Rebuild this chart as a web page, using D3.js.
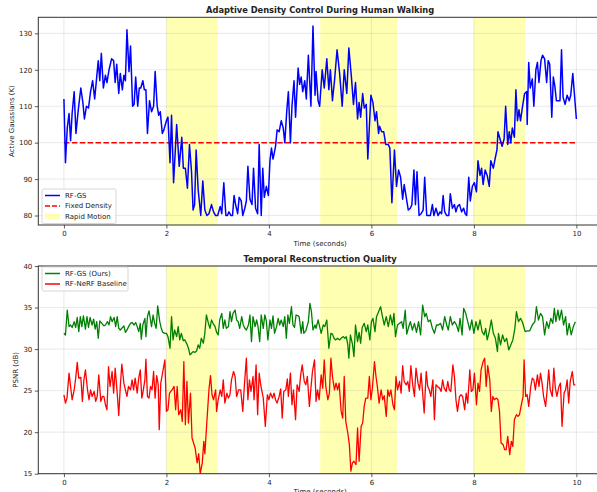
<!DOCTYPE html>
<html><head><meta charset="utf-8">
<script src="https://cdn.jsdelivr.net/npm/d3@7"></script>
<style>body{margin:0;background:#fff}svg{display:block}text{font-family:"DejaVu Sans",sans-serif;fill:#222}</style>
</head><body><svg id="c" width="597" height="492"></svg>
<script>
// ---- Data ----
const xTicks = [0, 2, 4, 6, 8, 10];
const topYTicks = [80, 90, 100, 110, 120, 130];
const botYTicks = [15, 20, 25, 30, 35, 40];
const rapidMotion = [[2, 3], [5, 6.5], [8, 9]];
const fixedDensity = 100;
// Active Gaussians (K), [time, value]
const rfgsGaussians = [[0,112],[0.03,94.5],[0.065,104],[0.1,108],[0.13,100.5],[0.16,108],[0.2,114],[0.235,102.5],[0.28,109],[0.33,115],[0.37,111],[0.4,106.5],[0.44,110],[0.48,109.5],[0.52,114],[0.56,117],[0.6,112],[0.63,116.5],[0.67,122.5],[0.7,117],[0.73,124.5],[0.77,115],[0.81,118.5],[0.84,116.5],[0.88,120],[0.93,123],[0.97,122.5],[1.0,116.5],[1.03,121.5],[1.07,113.5],[1.1,119],[1.14,114.5],[1.17,118.5],[1.2,117],[1.23,131],[1.27,119.5],[1.3,126.5],[1.34,110],[1.37,110.5],[1.4,118],[1.44,110],[1.47,115],[1.5,115],[1.54,117],[1.57,114.5],[1.6,114.5],[1.63,102.5],[1.67,111.5],[1.71,108.5],[1.75,110],[1.78,119.5],[1.82,110],[1.85,107.5],[1.88,108.5],[1.92,102.5],[1.95,103.5],[2.0,106],[2.03,107],[2.07,94.5],[2.1,107.5],[2.14,89],[2.2,105],[2.25,93.5],[2.3,101.5],[2.33,93],[2.37,93],[2.41,87.5],[2.45,99.5],[2.49,92],[2.52,81.5],[2.55,83],[2.58,98],[2.62,87],[2.67,80],[2.71,89.5],[2.75,81.5],[2.79,80],[2.83,80.5],[2.88,83],[2.92,81],[2.96,80],[3.0,80],[3.05,82.5],[3.08,80.5],[3.12,89],[3.16,80],[3.19,80],[3.22,81],[3.26,80],[3.29,80],[3.32,85.5],[3.35,83],[3.39,80.5],[3.42,85],[3.46,84],[3.49,80],[3.53,82],[3.56,84],[3.59,93.5],[3.63,84.5],[3.67,83],[3.7,93],[3.74,82],[3.78,80.5],[3.81,99.5],[3.85,80],[3.88,93],[3.91,85],[3.95,88],[3.99,85.5],[4.02,95],[4.05,98.5],[4.08,95.5],[4.13,99],[4.16,103.5],[4.2,103],[4.24,106],[4.28,104],[4.31,100],[4.35,109],[4.38,114],[4.42,100],[4.45,110],[4.49,117],[4.52,107],[4.57,120.5],[4.6,116],[4.63,118],[4.66,114],[4.7,117],[4.73,112],[4.77,124],[4.82,110],[4.86,132],[4.9,113],[4.92,119.5],[4.96,111.5],[4.99,110],[5.04,120],[5.08,115],[5.13,123],[5.17,114.5],[5.2,120],[5.24,111.5],[5.28,117],[5.33,125.5],[5.38,119],[5.43,110],[5.47,120],[5.52,113.5],[5.56,126],[5.61,118],[5.65,110.5],[5.69,116.5],[5.73,106.5],[5.76,111],[5.79,107],[5.83,113.5],[5.86,109.5],[5.9,110.5],[5.93,95.5],[5.99,113],[6.03,111],[6.07,106],[6.1,108.5],[6.14,102.5],[6.16,104.5],[6.2,103],[6.24,103],[6.28,99.5],[6.33,99.5],[6.36,98.5],[6.4,83.5],[6.45,98],[6.49,88],[6.53,92.5],[6.57,90.5],[6.61,84.5],[6.64,88.5],[6.68,85],[6.72,81.5],[6.76,82],[6.79,83],[6.83,92.5],[6.86,83],[6.89,92],[6.93,80],[6.97,80.5],[7.01,81.5],[7.04,90.5],[7.08,80],[7.11,80],[7.15,80],[7.19,83],[7.22,80],[7.26,82],[7.3,80],[7.34,81],[7.37,80.5],[7.4,85.5],[7.43,81],[7.47,80],[7.51,80],[7.54,86],[7.58,82],[7.62,83],[7.65,81],[7.68,82.5],[7.72,83],[7.76,81],[7.8,82],[7.83,80.5],[7.86,80],[7.9,90.5],[7.93,84],[7.97,88],[8.01,89],[8.05,86.5],[8.08,95],[8.12,91],[8.15,93],[8.18,88.5],[8.22,92.5],[8.26,91],[8.3,88],[8.33,95],[8.38,93],[8.42,96],[8.45,98],[8.47,103],[8.52,100.5],[8.55,99],[8.59,101],[8.62,110],[8.66,99.5],[8.69,103],[8.72,100],[8.75,104],[8.79,101.5],[8.82,114.5],[8.85,106],[8.88,109],[8.91,106],[8.95,110],[8.99,113.5],[9.03,114],[9.04,105],[9.07,122],[9.1,115],[9.14,117.5],[9.17,110],[9.21,120],[9.24,122],[9.27,116.5],[9.31,122.5],[9.34,124],[9.38,123],[9.42,116.5],[9.45,122.5],[9.48,121.5],[9.52,107],[9.55,118],[9.58,115.5],[9.61,111.5],[9.65,111.5],[9.68,111.5],[9.71,125.5],[9.74,112.5],[9.78,110.5],[9.82,113],[9.86,111.5],[9.89,113],[9.93,119],[10.0,106.5]];
// PSNR (dB), [time, value]
const rfgsPsnr = [[0,31.9],[0.03,31.7],[0.065,34.7],[0.1,32.7],[0.13,32.9],[0.16,32.6],[0.2,33.3],[0.23,32.6],[0.26,33.8],[0.29,32.1],[0.32,33.9],[0.35,32.7],[0.38,34.0],[0.42,32.4],[0.45,33.9],[0.48,32.6],[0.51,33.8],[0.55,32.9],[0.58,33.6],[0.61,32.4],[0.64,33.3],[0.67,31.3],[0.7,33.4],[0.74,33.1],[0.78,32.8],[0.81,32.9],[0.85,33.3],[0.88,32.9],[0.91,33.9],[0.94,33.3],[0.98,33.8],[1.01,32.7],[1.04,33.9],[1.07,32.5],[1.1,32.3],[1.13,32.5],[1.17,32.8],[1.2,32.0],[1.24,32.4],[1.27,32.8],[1.3,33.1],[1.33,33.2],[1.37,32.9],[1.4,33.2],[1.43,32.7],[1.46,32.1],[1.49,33.1],[1.51,31.2],[1.54,32.9],[1.58,33.7],[1.6,31.5],[1.63,33.9],[1.66,34.6],[1.69,33.5],[1.71,32.7],[1.74,34.1],[1.77,33.1],[1.8,32.5],[1.83,35.2],[1.87,33.3],[1.9,32.5],[1.93,32.0],[1.97,31.9],[2.0,31.9],[2.03,31.5],[2.07,30.1],[2.1,33.9],[2.13,31.1],[2.16,32.3],[2.2,31.5],[2.23,32.7],[2.26,31.1],[2.29,31.9],[2.33,31.0],[2.36,31.1],[2.4,30.6],[2.43,30.1],[2.46,29.3],[2.49,29.5],[2.52,29.7],[2.56,29.6],[2.59,29.8],[2.62,30.5],[2.65,30.1],[2.68,31.3],[2.72,30.7],[2.75,31.9],[2.78,34.1],[2.82,33.1],[2.85,32.5],[2.88,33.5],[2.91,33.1],[2.95,32.7],[2.98,32.0],[3.01,31.7],[3.04,33.5],[3.08,34.3],[3.11,32.5],[3.14,33.5],[3.17,32.5],[3.21,32.7],[3.24,34.5],[3.27,33.3],[3.3,34.3],[3.34,34.7],[3.37,33.5],[3.4,33.3],[3.43,32.5],[3.47,33.9],[3.5,32.9],[3.53,32.5],[3.56,32.3],[3.6,32.9],[3.63,34.1],[3.66,30.9],[3.69,33.9],[3.73,32.7],[3.76,33.5],[3.79,32.6],[3.82,30.9],[3.85,34.1],[3.89,32.5],[3.92,34.1],[3.95,33.4],[3.98,31.1],[4.02,33.5],[4.05,32.5],[4.08,34.0],[4.11,31.9],[4.15,32.7],[4.18,33.7],[4.21,32.9],[4.24,33.5],[4.28,32.7],[4.31,33.9],[4.34,31.3],[4.37,34.1],[4.4,33.1],[4.44,35.1],[4.47,32.9],[4.5,32.6],[4.53,34.1],[4.57,34.0],[4.59,33.9],[4.63,31.9],[4.66,33.3],[4.68,31.9],[4.72,32.2],[4.77,33.3],[4.8,35.5],[4.83,34.5],[4.86,32.3],[4.9,32.9],[4.92,32.5],[4.96,33.5],[4.99,32.7],[5.02,31.9],[5.06,32.9],[5.09,32.7],[5.13,33.5],[5.17,30.1],[5.21,31.9],[5.24,31.8],[5.27,31.3],[5.3,31.1],[5.34,31.3],[5.38,31.1],[5.41,31.3],[5.45,31.5],[5.48,31.3],[5.51,31.5],[5.54,30.5],[5.56,28.9],[5.59,31.7],[5.63,30.6],[5.66,29.1],[5.69,32.9],[5.73,30.9],[5.76,32.0],[5.79,30.7],[5.82,32.6],[5.86,33.1],[5.9,32.1],[5.93,32.9],[5.97,31.1],[6.0,33.3],[6.03,33.7],[6.07,32.1],[6.1,33.9],[6.14,34.5],[6.18,35.1],[6.21,34.1],[6.25,32.9],[6.29,33.9],[6.33,32.7],[6.37,34.1],[6.41,32.9],[6.44,34.3],[6.47,31.5],[6.51,32.9],[6.55,33.1],[6.59,33.3],[6.62,32.5],[6.66,34.7],[6.69,31.8],[6.72,32.5],[6.76,33.3],[6.8,32.3],[6.84,33.1],[6.88,32.0],[6.92,33.3],[6.96,31.7],[7.0,35.3],[7.04,33.9],[7.07,34.3],[7.11,33.3],[7.15,33.5],[7.19,32.5],[7.23,31.9],[7.27,32.9],[7.31,32.9],[7.35,33.1],[7.39,32.3],[7.43,33.9],[7.47,32.9],[7.5,32.3],[7.54,33.9],[7.58,32.9],[7.62,33.3],[7.66,32.9],[7.7,32.1],[7.73,33.7],[7.77,31.7],[7.8,34.9],[7.84,34.3],[7.88,33.3],[7.92,32.3],[7.96,33.5],[8.0,31.9],[8.04,33.3],[8.08,32.3],[8.12,33.5],[8.16,32.1],[8.2,31.7],[8.23,32.5],[8.26,31.1],[8.3,32.1],[8.34,33.5],[8.38,31.9],[8.42,31.3],[8.46,29.7],[8.48,31.9],[8.52,30.5],[8.56,31.7],[8.6,30.9],[8.64,31.3],[8.68,29.9],[8.72,30.5],[8.76,31.1],[8.8,32.5],[8.83,34.5],[8.87,33.3],[8.91,33.7],[8.95,33.2],[9.0,32.1],[9.04,32.2],[9.09,32.2],[9.14,32.9],[9.19,33.3],[9.22,35.1],[9.26,33.5],[9.3,34.3],[9.34,33.9],[9.38,31.7],[9.42,33.3],[9.46,32.5],[9.5,33.7],[9.54,33.1],[9.57,34.9],[9.6,33.3],[9.64,34.7],[9.67,33.5],[9.71,34.7],[9.75,32.9],[9.79,33.9],[9.82,31.7],[9.86,33.1],[9.9,31.7],[9.94,32.7],[9.98,33.3]];
const nerfPsnr = [[0,24.5],[0.03,23.5],[0.06,24.1],[0.1,27.1],[0.13,25.5],[0.16,23.9],[0.2,25.1],[0.23,26.5],[0.26,28.4],[0.29,26.5],[0.33,26.6],[0.36,23.7],[0.39,26.3],[0.42,27.5],[0.46,25.1],[0.49,23.9],[0.52,25.1],[0.55,24.3],[0.59,24.9],[0.62,23.7],[0.65,24.3],[0.68,26.9],[0.72,23.7],[0.75,24.3],[0.78,24.3],[0.81,23.3],[0.84,22.7],[0.87,27.9],[0.9,25.5],[0.94,27.3],[0.97,24.7],[1.0,27.7],[1.04,24.7],[1.07,22.0],[1.1,25.5],[1.13,28.2],[1.17,25.9],[1.2,25.1],[1.23,24.3],[1.26,25.5],[1.3,25.1],[1.33,26.3],[1.36,25.1],[1.39,26.5],[1.43,24.7],[1.46,26.5],[1.49,27.5],[1.52,24.1],[1.54,24.7],[1.58,26.3],[1.6,28.8],[1.63,24.3],[1.66,24.1],[1.69,25.5],[1.72,25.1],[1.75,27.3],[1.78,24.1],[1.81,26.8],[1.84,25.7],[1.86,20.3],[1.89,25.9],[1.93,27.3],[1.97,28.7],[2.0,22.5],[2.03,22.7],[2.06,24.7],[2.11,25.1],[2.15,25.5],[2.18,22.7],[2.21,25.5],[2.24,22.1],[2.28,22.7],[2.31,21.3],[2.34,28.5],[2.37,20.9],[2.4,26.1],[2.43,21.1],[2.47,24.7],[2.5,19.3],[2.53,18.7],[2.56,18.1],[2.6,16.3],[2.63,17.4],[2.66,15.0],[2.7,16.3],[2.73,18.9],[2.75,17.4],[2.79,21.3],[2.83,25.1],[2.86,26.8],[2.89,24.5],[2.92,23.9],[2.96,25.1],[2.98,22.5],[3.01,23.9],[3.05,25.1],[3.08,24.3],[3.11,26.3],[3.14,23.5],[3.18,24.7],[3.21,24.1],[3.24,24.5],[3.27,26.3],[3.31,27.3],[3.34,26.7],[3.37,24.3],[3.41,25.1],[3.45,25.1],[3.49,22.5],[3.52,25.5],[3.56,28.9],[3.59,23.9],[3.62,26.3],[3.65,24.9],[3.69,26.7],[3.71,23.9],[3.75,28.1],[3.78,22.1],[3.81,27.1],[3.84,25.7],[3.89,24.1],[3.93,20.7],[3.97,24.5],[4.0,23.9],[4.03,24.7],[4.07,24.1],[4.1,24.7],[4.13,23.9],[4.16,23.5],[4.2,24.3],[4.23,25.2],[4.26,21.7],[4.29,24.9],[4.33,25.1],[4.36,26.4],[4.38,24.3],[4.42,27.1],[4.45,23.3],[4.48,25.1],[4.52,21.5],[4.55,25.7],[4.59,24.9],[4.62,26.9],[4.65,28.1],[4.69,26.1],[4.72,25.7],[4.75,26.7],[4.79,23.1],[4.82,25.3],[4.85,27.3],[4.89,28.7],[4.92,23.7],[4.95,25.1],[4.98,23.9],[5.02,26.9],[5.05,25.3],[5.08,28.7],[5.11,25.5],[5.15,23.9],[5.18,24.7],[5.21,28.9],[5.24,26.7],[5.28,25.1],[5.31,25.9],[5.34,25.1],[5.37,25.9],[5.41,22.5],[5.44,21.7],[5.47,26.7],[5.5,21.3],[5.54,19.9],[5.57,18.5],[5.6,15.3],[5.63,16.3],[5.66,16.5],[5.7,16.1],[5.73,20.5],[5.76,16.5],[5.8,20.7],[5.83,21.1],[5.86,23.1],[5.89,24.1],[5.93,24.1],[5.96,26.7],[5.99,23.9],[6.02,25.3],[6.06,28.5],[6.09,26.7],[6.12,25.3],[6.15,23.5],[6.19,25.1],[6.22,23.9],[6.25,24.4],[6.29,21.9],[6.32,25.1],[6.35,24.3],[6.38,25.1],[6.42,23.3],[6.45,22.7],[6.48,26.7],[6.51,25.1],[6.55,26.1],[6.58,24.7],[6.61,28.0],[6.64,26.1],[6.68,25.7],[6.71,26.1],[6.74,24.9],[6.77,28.0],[6.81,25.5],[6.84,24.3],[6.87,27.7],[6.91,25.9],[6.94,25.1],[6.97,27.1],[7.0,24.7],[7.03,22.3],[7.07,27.3],[7.1,25.5],[7.13,25.1],[7.16,24.3],[7.2,26.3],[7.23,21.5],[7.26,25.7],[7.29,25.5],[7.33,25.3],[7.36,24.9],[7.39,26.3],[7.42,25.3],[7.46,24.9],[7.49,26.1],[7.52,25.1],[7.55,24.9],[7.59,28.1],[7.62,26.7],[7.65,23.9],[7.68,22.5],[7.72,24.3],[7.75,24.5],[7.78,24.3],[7.82,22.7],[7.85,24.7],[7.88,23.5],[7.92,27.5],[7.95,24.9],[7.98,25.1],[8.01,27.1],[8.05,23.3],[8.08,25.9],[8.11,24.9],[8.14,27.5],[8.18,28.5],[8.21,28.9],[8.24,25.5],[8.27,28.0],[8.31,26.3],[8.34,22.5],[8.37,24.3],[8.4,23.9],[8.44,24.1],[8.47,23.9],[8.5,22.5],[8.53,18.7],[8.57,18.5],[8.6,17.9],[8.63,17.9],[8.66,19.5],[8.7,17.3],[8.73,18.9],[8.76,18.3],[8.79,21.5],[8.83,22.1],[8.86,21.9],[8.89,22.1],[8.92,23.1],[8.96,24.3],[8.98,28.7],[9.01,24.3],[9.04,24.5],[9.07,23.1],[9.11,25.5],[9.14,26.5],[9.17,26.3],[9.2,25.1],[9.24,26.9],[9.27,25.5],[9.3,27.1],[9.33,25.9],[9.36,24.3],[9.4,23.1],[9.43,25.1],[9.46,27.5],[9.49,25.1],[9.53,24.3],[9.56,27.7],[9.59,25.3],[9.62,24.3],[9.66,25.5],[9.69,25.9],[9.72,20.7],[9.76,24.7],[9.79,25.1],[9.82,26.3],[9.85,23.5],[9.88,26.1],[9.92,27.3],[9.95,25.7],[9.98,25.7]];

// ---- Drawing ----
const svg = d3.select("#c");
const L = 38.3, R = 602;
const FS = 7;
const x = d3.scaleLinear().domain([-0.5, 10.5]).range([L, R]);
const panels = [
  {top: 17.3, bot: 225, domain: [77.4, 134.4], ticks: topYTicks, title: "Adaptive Density Control During Human Walking", ylab: "Active Gaussians (K)", ylabX: 14},
  {top: 266, bot: 473.7, domain: [15, 40], ticks: botYTicks, title: "Temporal Reconstruction Quality", ylab: "PSNR (dB)", ylabX: 17.5}
];
const defs = svg.append("defs");
panels.forEach((p, i) => {
  p.y = d3.scaleLinear().domain(p.domain).range([p.bot, p.top]);
  defs.append("clipPath").attr("id", "clip" + i).append("rect")
    .attr("x", L).attr("y", p.top).attr("width", R - L).attr("height", p.bot - p.top);
  const g = svg.append("g");
  p.g = g;
  g.selectAll("rect.span").data(rapidMotion).join("rect")
    .attr("x", d => x(d[0])).attr("width", d => x(d[1]) - x(d[0]))
    .attr("y", p.top).attr("height", p.bot - p.top)
    .attr("fill", "#ffff00").attr("fill-opacity", 0.3);
  g.selectAll("line.gx").data(xTicks).join("line")
    .attr("x1", d => x(d)).attr("x2", d => x(d)).attr("y1", p.top).attr("y2", p.bot)
    .attr("stroke", "#b0b0b0").attr("stroke-opacity", 0.35).attr("stroke-width", 0.8);
  g.selectAll("line.gy").data(p.ticks).join("line")
    .attr("x1", L).attr("x2", R).attr("y1", d => p.y(d)).attr("y2", d => p.y(d))
    .attr("stroke", "#b0b0b0").attr("stroke-opacity", 0.35).attr("stroke-width", 0.8);
  const xa = g.append("g").attr("transform", `translate(0,${p.bot})`)
    .call(d3.axisBottom(x).tickValues(xTicks).tickSize(3.5).tickPadding(2.5).tickFormat(d3.format("d")));
  const ya = g.append("g").attr("transform", `translate(${L},0)`)
    .call(d3.axisLeft(p.y).tickValues(p.ticks).tickSize(3.5).tickPadding(2.5).tickFormat(d3.format("d")));
  [xa, ya].forEach(a => {
    a.select(".domain").remove();
    a.selectAll(".tick line").attr("stroke", "#333").attr("stroke-width", 0.8);
    a.selectAll(".tick text").attr("font-size", FS).attr("fill", "#222").attr("font-family", "DejaVu Sans");
  });
  svg.append("text").attr("x", (L + R) / 2).attr("y", p.top - 4.3).attr("text-anchor", "middle")
    .attr("font-size", 8.3).attr("font-weight", "bold").text(p.title);
  svg.append("text").attr("x", (L + R) / 2).attr("y", p.bot + 20.5).attr("text-anchor", "middle")
    .attr("font-size", FS).text("Time (seconds)");
  svg.append("text").attr("transform", `translate(${p.ylabX},${(p.top + p.bot) / 2}) rotate(-90)`)
    .attr("text-anchor", "middle").attr("font-size", FS).text(p.ylab);
});

const line = (p) => d3.line().x(d => x(d[0])).y(d => p.y(d[1]));
const P0 = panels[0], P1 = panels[1];
const lg0 = P0.g.append("g").attr("clip-path", "url(#clip0)");
lg0.append("path").datum([[0, fixedDensity], [10, fixedDensity]]).attr("d", line(P0))
  .attr("fill", "none").attr("stroke", "#ff0000").attr("stroke-width", 1.5).attr("stroke-dasharray", "5.5,2.4");
lg0.append("path").datum(rfgsGaussians).attr("d", line(P0))
  .attr("fill", "none").attr("stroke", "#0000ff").attr("stroke-width", 1.5).attr("stroke-linejoin", "round");
const lg1 = P1.g.append("g").attr("clip-path", "url(#clip1)");
lg1.append("path").datum(rfgsPsnr).attr("d", line(P1))
  .attr("fill", "none").attr("stroke", "#008000").attr("stroke-width", 1.3).attr("stroke-linejoin", "round");
lg1.append("path").datum(nerfPsnr).attr("d", line(P1))
  .attr("fill", "none").attr("stroke", "#ff0000").attr("stroke-width", 1.3).attr("stroke-linejoin", "round");

panels.forEach(p => {
  p.g.append("rect").attr("x", L).attr("y", p.top).attr("width", R - L).attr("height", p.bot - p.top)
    .attr("fill", "none").attr("stroke", "#333").attr("stroke-width", 1);
});

function legend(px, py, w, items) {
  const g = svg.append("g");
  g.append("rect").attr("x", px).attr("y", py).attr("width", w).attr("height", items.length * 10.5 + 3)
    .attr("rx", 1.5).attr("fill", "#fff").attr("fill-opacity", 0.8).attr("stroke", "#ccc").attr("stroke-width", 0.8);
  items.forEach((it, i) => {
    const cy = py + 6.5 + i * 10.5;
    if (it.type === "patch") {
      g.append("rect").attr("x", px + 3).attr("y", cy - 3).attr("width", 15).attr("height", 6)
        .attr("fill", "#ffff00").attr("fill-opacity", 0.3);
    } else {
      g.append("line").attr("x1", px + 3).attr("x2", px + 18).attr("y1", cy).attr("y2", cy)
        .attr("stroke", it.color).attr("stroke-width", 1.5).attr("stroke-dasharray", it.dash || null);
    }
    g.append("text").attr("x", px + 23).attr("y", cy).attr("dy", "0.35em").attr("font-size", FS).text(it.label);
  });
}
legend(42, 189, 74, [
  {label: "RF-GS", color: "#0000ff"},
  {label: "Fixed Density", color: "#ff0000", dash: "5,2"},
  {label: "Rapid Motion", type: "patch"}
]);
legend(42, 267, 86, [
  {label: "RF-GS (Ours)", color: "#008000"},
  {label: "RF-NeRF Baseline", color: "#ff0000"}
]);
</script></body></html>
